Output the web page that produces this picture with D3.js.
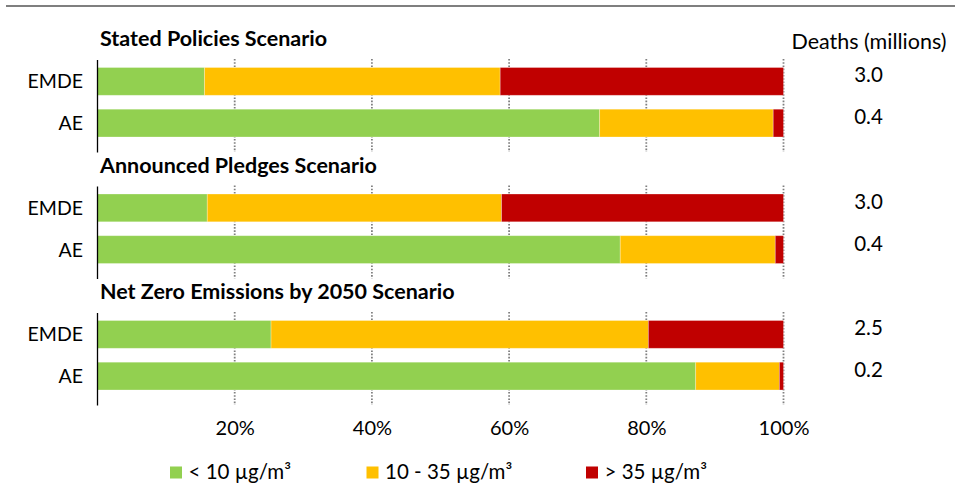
<!DOCTYPE html>
<html>
<head>
<meta charset="utf-8">
<script src="https://cdn.jsdelivr.net/npm/d3@7"></script>
<style>
  html, body { margin: 0; padding: 0; background: #fff; }
  svg { display: block; font-family: Lato, "Open Sans", sans-serif; }
</style>
</head>
<body>
<svg id="chart" width="955" height="485"></svg>
<script>
// ---- data ----
const scenarios = ["Stated Policies Scenario", "Announced Pledges Scenario", "Net Zero Emissions by 2050 Scenario"];
const regions = ["EMDE", "AE"];
const seriesNames = ["< 10 µg/m³", "10 - 35 µg/m³", "> 35 µg/m³"];
// shares of population (fraction) per scenario row: [EMDE, AE]
const lowShare  = [[0.156, 0.732], [0.160, 0.762], [0.253, 0.872]];
const midShare  = [[0.431, 0.253], [0.429, 0.226], [0.550, 0.122]];
const highShare = [[0.413, 0.015], [0.411, 0.012], [0.197, 0.006]];
const deaths = [["3.0", "0.4"], ["3.0", "0.4"], ["2.5", "0.2"]];
const tickValues = [0.2, 0.4, 0.6, 0.8, 1.0];
const colors = ["#92D050", "#FFC000", "#C00000"];

// ---- layout ----
const svg = d3.select("#chart");
const x = d3.scaleLinear().domain([0, 1]).range([97.5, 783.5]);
const panelStep = 126.5;
const pct = d3.format(".0%");

// top rule
svg.append("line").attr("x1", 6).attr("x2", 955).attr("y1", 6).attr("y2", 6)
  .attr("stroke", "#7f7f7f").attr("stroke-width", 2.2);

// header
svg.append("text").attr("x", 869).attr("y", 48.5).attr("text-anchor", "middle")
  .attr("font-size", 21.5).attr("fill", "#000").text("Deaths (millions)");

scenarios.forEach((name, i) => {
  const off = i * panelStep;
  const y = d3.scaleBand().domain(regions).range([60 + off, 144.5 + off])
    .paddingInner(1 / 3).paddingOuter(0.18);
  const g = svg.append("g");

  // title
  g.append("text").attr("x", 100).attr("y", 46 + off)
    .attr("font-size", 21.5).attr("font-weight", "bold").attr("fill", "#000").text(name);

  // gridlines
  g.selectAll(".grid").data(tickValues).join("line")
    .attr("x1", d => x(d)).attr("x2", d => x(d))
    .attr("y1", 59 + off).attr("y2", 152 + off)
    .attr("stroke", "#808080").attr("stroke-width", 1.8)
    .attr("stroke-dasharray", "1.6,1.6");

  // stacked bars
  const rows = regions.map((r, j) => {
    const vals = [lowShare[i][j], midShare[i][j], highShare[i][j]];
    let acc = 0;
    return vals.map((v, k) => { const s = acc; acc += v; return { region: r, k, x0: s, x1: acc }; });
  }).flat();
  g.selectAll(".seg").data(rows).join("rect")
    .attr("x", d => x(d.x0)).attr("width", d => x(d.x1) - x(d.x0))
    .attr("y", d => y(d.region)).attr("height", y.bandwidth())
    .attr("fill", d => colors[d.k])
    .attr("stroke", "#ffffff").attr("stroke-opacity", 0.35).attr("stroke-width", 0.8);

  // y axis line
  g.append("line").attr("x1", x(0)).attr("x2", x(0))
    .attr("y1", 60 + off).attr("y2", (i === 2 ? 144.5 + 8 : 152.5) + off)
    .attr("stroke", "#000").attr("stroke-width", 1.3);

  // category labels
  g.selectAll(".cat").data(regions).join("text")
    .attr("x", 83).attr("y", d => y(d) + y.bandwidth() / 2 + 7)
    .attr("text-anchor", "end").attr("font-size", 19.5).attr("fill", "#000").text(d => d);

  // deaths values
  g.selectAll(".val").data(regions).join("text")
    .attr("x", 868.5).attr("y", (d, j) => y(d) + y.bandwidth() / 2 + 1)
    .attr("text-anchor", "middle").attr("font-size", 20.5).attr("fill", "#000")
    .text((d, j) => deaths[i][j]);
});

// x axis tick labels
const xAxis = d3.axisBottom(x).tickValues(tickValues).tickFormat(pct).tickSize(0).tickPadding(0);
const ax = svg.append("g").attr("transform", "translate(0,421)").call(xAxis);
ax.select(".domain").remove();
ax.selectAll("text").attr("font-size", 20).attr("fill", "#000")
  .attr("font-family", "Lato, sans-serif").attr("dy", "0.71em");

// legend
const legX = [170, 366.5, 586];
const leg = svg.append("g");
seriesNames.forEach((s, k) => {
  leg.append("rect").attr("x", legX[k]).attr("y", 466.5).attr("width", 12).attr("height", 12)
    .attr("fill", colors[k]);
  leg.append("text").attr("x", legX[k] + 18.5).attr("y", 478.5).attr("font-size", 20.5)
    .attr("fill", "#000").text(s);
});
</script>
</body>
</html>
